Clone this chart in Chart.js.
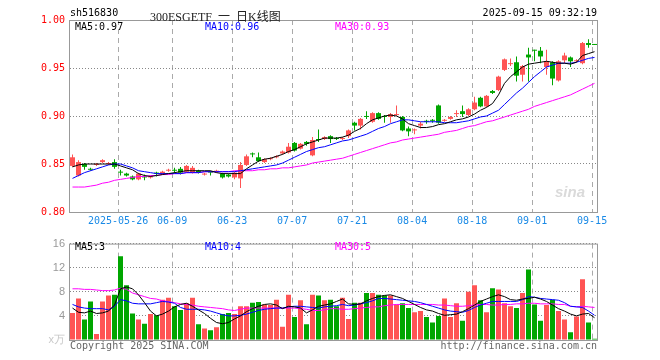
<!DOCTYPE html>
<html>
<head>
<meta charset="utf-8">
<script src="https://cdn.jsdelivr.net/npm/chart.js@4.4.1/dist/chart.umd.min.js"></script>
<style>
  body { margin: 0; background: #fff; }
  #wrap { position: relative; width: 660px; height: 360px; overflow: hidden; font-family: "DejaVu Sans Mono", monospace; font-size: 10px; }
  canvas { position: absolute; left: 0; }
  .t { position: absolute; line-height: 12px; white-space: nowrap; }
</style>
</head>
<body>
<div id="wrap">
  <canvas id="kline" width="660" height="232" style="top:0"></canvas>
  <canvas id="vol" width="660" height="128" style="top:232px"></canvas>

  <span class="t" style="left:70px;top:7px;color:#000">sh516830</span>
  <span class="t" style="left:150px;top:7px;color:#222;word-spacing:3px;font:12px 'Liberation Serif','Noto Sans CJK SC',serif">300ESGETF 一 日K线图</span>
  <span class="t" style="right:63px;top:7px;color:#000">2025-09-15 09:32:19</span>

  <span class="t" style="left:75px;top:21px;color:#000">MA5:0.97</span>
  <span class="t" style="left:205px;top:21px;color:#00f">MA10:0.96</span>
  <span class="t" style="left:335px;top:21px;color:#f0f">MA30:0.93</span>

  <span class="t" style="left:75px;top:241px;color:#000">MA5:3</span>
  <span class="t" style="left:205px;top:241px;color:#00f">MA10:4</span>
  <span class="t" style="left:335px;top:241px;color:#f0f">MA30:5</span>

  <span class="t" style="left:555px;top:183px;color:#dadada;font:italic bold 15px 'Liberation Sans',sans-serif">sina</span>

  <span class="t" style="left:70px;top:340px;color:#666">Copyright 2025 SINA.COM</span>
  <span class="t" style="right:63px;top:340px;color:#666">http://finance.sina.com.cn</span>
</div>

<script>
// trading days shown on the chart
const dates = [
  '2025-05-14','2025-05-15','2025-05-16','2025-05-19','2025-05-20','2025-05-21','2025-05-22','2025-05-23',
  '2025-05-26','2025-05-27','2025-05-28','2025-05-29','2025-05-30',
  '2025-06-03','2025-06-04','2025-06-05','2025-06-06','2025-06-09','2025-06-10','2025-06-11','2025-06-12','2025-06-13',
  '2025-06-16','2025-06-17','2025-06-18','2025-06-19','2025-06-20','2025-06-23','2025-06-24','2025-06-25','2025-06-26','2025-06-27','2025-06-30',
  '2025-07-01','2025-07-02','2025-07-03','2025-07-04','2025-07-07','2025-07-08','2025-07-09','2025-07-10','2025-07-11',
  '2025-07-14','2025-07-15','2025-07-16','2025-07-17','2025-07-18','2025-07-21','2025-07-22','2025-07-23','2025-07-24','2025-07-25',
  '2025-07-28','2025-07-29','2025-07-30','2025-07-31','2025-08-01',
  '2025-08-04','2025-08-05','2025-08-06','2025-08-07','2025-08-08','2025-08-11','2025-08-12','2025-08-13','2025-08-14','2025-08-15',
  '2025-08-18','2025-08-19','2025-08-20','2025-08-21','2025-08-22','2025-08-25','2025-08-26','2025-08-27','2025-08-28','2025-08-29',
  '2025-09-01','2025-09-02','2025-09-03','2025-09-04','2025-09-05','2025-09-08','2025-09-09','2025-09-10','2025-09-11','2025-09-12',
  '2025-09-15'
];
const tickDates = ['2025-05-26','2025-06-09','2025-06-23','2025-07-07','2025-07-21','2025-08-04','2025-08-18','2025-09-01','2025-09-15'];

const open = [.848,.838,.850,.845,.849,.852,.850,.852,.842,.840,.837,.834,.837,.836,.841,.840,.843,.844,.845,.842,
  .841,.843,.839,.842,.842,.840,.839,.836,.835,.849,.861,.857,.852,.855,.857,.861,.862,.872,.866,.873,
  .859,.876,.876,.879,.877,.876,.879,.893,.890,.900,.894,.903,.900,.899,.901,.899,.887,.885,.890,.895,
  .896,.911,.895,.897,.902,.905,.901,.907,.919,.910,.926,.927,.948,.954,.956,.943,.964,.969,.968,.951,
  .956,.937,.958,.961,.957,.955,.976,.975];
const high = [.860,.854,.851,.846,.851,.855,.852,.855,.844,.841,.838,.841,.839,.838,.842,.843,.845,.846,.847,.849,
  .848,.844,.841,.843,.844,.841,.840,.842,.852,.860,.862,.862,.856,.857,.859,.864,.872,.873,.872,.874,
  .878,.886,.879,.880,.878,.878,.886,.894,.898,.905,.904,.904,.901,.903,.911,.900,.889,.887,.894,.896,
  .897,.912,.897,.900,.906,.911,.908,.920,.920,.922,.927,.942,.960,.960,.962,.953,.971,.969,.972,.969,
  .957,.958,.966,.962,.959,.977,.980,.975];
const low = [.847,.837,.844,.843,.848,.851,.849,.845,.838,.837,.833,.833,.833,.835,.837,.839,.842,.840,.839,.841,
  .840,.840,.838,.838,.841,.835,.836,.834,.825,.848,.857,.852,.851,.854,.856,.860,.861,.863,.865,.869,
  .858,.873,.875,.872,.875,.875,.877,.885,.886,.897,.893,.896,.893,.893,.900,.884,.879,.881,.887,.892,
  .893,.892,.894,.896,.899,.899,.900,.906,.909,.909,.923,.926,.947,.952,.936,.936,.936,.957,.955,.943,
  .932,.936,.955,.951,.956,.954,.971,.974];
const close = [.857,.852,.847,.844,.850,.854,.851,.847,.841,.838,.834,.840,.836,.837,.840,.842,.844,.843,.841,.848,
  .846,.841,.840,.841,.843,.836,.837,.841,.849,.858,.860,.853,.855,.856,.858,.863,.868,.864,.871,.871,
  .875,.875,.878,.876,.876,.877,.885,.890,.897,.899,.903,.897,.899,.902,.902,.885,.884,.886,.892,.894,
  .895,.893,.896,.899,.903,.902,.907,.914,.910,.921,.924,.941,.959,.955,.942,.952,.961,.968,.962,.957,
  .939,.957,.963,.957,.958,.976,.974,.974];

const ma5 = [.847,.849,.850,.850,.850,.850,.850,.850,.848,.846,.844,.840,.838,.837,.838,.839,.840,.841,.842,.843,
  .843,.843,.843,.843,.841,.840,.840,.840,.840,.845,.849,.853,.855,.856,.858,.860,.863,.865,.868,.871,
  .873,.875,.877,.877,.877,.878,.880,.884,.887,.892,.896,.898,.900,.901,.900,.897,.892,.890,.888,.888,
  .889,.891,.892,.894,.896,.897,.899,.902,.906,.909,.913,.922,.934,.941,.946,.951,.954,.955,.956,.957,
  .956,.955,.955,.954,.956,.963,.965,.967];
const ma10 = [.835,.838,.841,.843,.845,.847,.849,.850,.850,.848,.846,.843,.842,.841,.840,.840,.840,.840,.840,.841,
  .841,.841,.842,.842,.842,.842,.842,.842,.843,.844,.845,.846,.847,.848,.849,.851,.854,.857,.860,.863,
  .865,.867,.868,.870,.872,.874,.875,.877,.879,.881,.884,.887,.889,.892,.894,.896,.896,.895,.894,.894,
  .894,.894,.893,.893,.893,.894,.895,.897,.899,.900,.903,.906,.912,.918,.924,.929,.935,.941,.946,.951,
  .953,.955,.955,.955,.956,.958,.960,.961];
const ma30 = [.826,.826,.826,.827,.828,.830,.831,.833,.834,.835,.836,.837,.837,.838,.838,.839,.839,.840,.840,.841,
  .841,.841,.842,.842,.842,.842,.842,.843,.843,.843,.843,.844,.844,.845,.845,.846,.846,.847,.848,.849,
  .851,.852,.853,.854,.855,.856,.858,.860,.862,.864,.866,.868,.870,.872,.873,.875,.876,.877,.878,.879,
  .880,.881,.883,.884,.885,.887,.889,.890,.892,.894,.895,.897,.899,.901,.903,.905,.907,.910,.912,.914,
  .916,.918,.920,.922,.925,.928,.931,.934];

// volume in 万
const volume = [4.5,6.9,3.4,6.4,1.0,6.4,7.4,7.5,13.9,9.1,4.4,3.4,2.7,4.3,4.1,6.7,7.0,5.6,5.0,6.1,
  7.0,2.6,1.9,1.6,2.1,4.3,4.5,4.3,5.6,5.6,6.2,6.3,5.9,5.8,6.7,2.2,7.5,3.8,6.6,2.6,
  7.5,7.4,6.6,6.7,5.6,7.0,3.5,6.2,6.2,7.8,7.8,7.5,7.4,7.4,5.9,6.1,5.3,4.6,4.8,3.8,
  2.9,4.0,6.9,3.8,6.1,3.2,8.0,9.1,6.6,4.6,8.6,8.4,6.1,5.6,5.3,7.8,11.7,5.9,3.2,5.8,
  6.7,4.8,3.4,1.3,3.9,10.1,2.9,0.2];
const volMa5 = [5.3,4.6,4.5,4.8,4.4,4.5,4.8,5.8,8.5,8.8,8.5,7.5,6.2,4.8,4.0,4.3,4.8,5.5,5.9,6.1,
  5.6,5.0,4.4,3.6,2.9,2.7,2.9,3.5,4.0,4.7,5.2,5.6,5.9,6.0,5.8,5.2,5.6,5.5,5.3,4.5,
  5.0,5.6,5.8,6.0,6.4,6.8,6.0,5.9,6.0,6.5,6.9,7.2,7.4,7.5,7.2,6.9,6.4,5.9,5.4,5.0,
  4.8,4.4,4.1,4.2,4.3,4.7,5.2,5.8,6.4,6.8,7.2,7.5,7.2,6.7,6.6,6.8,6.9,7.1,6.8,6.4,
  5.8,5.2,4.8,4.3,4.0,4.3,4.4,3.7];
const volMa10 = [5.9,5.5,5.3,5.2,5.2,5.2,5.0,5.6,6.7,6.5,6.1,6.0,6.0,6.0,6.2,6.4,6.3,6.1,5.4,5.1,
  5.1,5.1,5.0,4.8,4.5,4.2,4.0,4.0,4.1,4.3,4.6,4.9,5.1,5.2,5.3,5.3,5.5,5.6,5.6,5.5,
  5.4,5.3,5.5,5.6,5.7,5.9,5.7,5.8,6.0,6.2,6.5,6.9,6.9,6.8,6.7,6.6,6.5,6.4,6.2,5.9,
  5.6,5.3,5.0,4.8,4.7,4.6,4.9,5.4,5.8,6.1,6.4,6.4,6.4,6.4,6.4,6.7,7.2,7.1,6.9,6.8,
  6.7,6.6,6.2,5.6,5.5,5.4,4.8,4.1];
const volMa30 = [8.5,8.5,8.4,8.4,8.3,8.2,8.2,8.3,8.6,8.4,7.8,7.5,7.2,6.9,6.8,6.5,6.4,6.2,6.0,5.9,
  5.8,5.6,5.5,5.4,5.3,5.2,5.0,4.9,5.1,5.3,5.3,5.3,5.3,5.3,5.3,5.3,5.3,5.3,5.2,5.1,
  4.9,4.9,5.0,5.2,5.2,5.1,5.1,5.2,5.3,5.4,5.5,5.5,5.7,5.8,5.9,5.9,5.9,5.9,5.9,5.9,
  5.9,5.8,5.8,5.7,5.6,5.6,5.7,5.8,5.9,5.9,5.8,5.8,5.9,5.9,6.0,6.0,6.1,6.1,6.0,6.0,
  6.0,5.9,5.9,5.6,5.5,5.6,5.5,5.4];

const UP = '#ff5454';
const DOWN = '#00a600';
const mono = { family: 'DejaVu Sans Mono', size: 10 };

const idx = dates.map((d, i) => i);
const tickIdx = tickDates.map(d => dates.indexOf(d));
const colors = idx.map(i => close[i] >= open[i] ? UP : DOWN);

// grey frame round the plot area (also hides the grid lines on the edges)
const frame = {
  id: 'frame',
  afterDatasetsDraw(chart) {
    const { ctx, chartArea: a } = chart;
    ctx.save();
    ctx.strokeStyle = '#999';
    ctx.lineWidth = 1;
    ctx.setLineDash([]);
    ctx.strokeRect(a.left - 0.5, a.top + 0.5, a.right - a.left, a.bottom - a.top);
    ctx.restore();
  }
};

// shared date axis, one unit per trading day
function dateAxis(showLabels) {
  return {
    type: 'linear',
    bounds: 'data',
    offset: false,
    min: -2.5 / 6,
    max: dates.length - 2.5 / 6,
    afterBuildTicks: s => { s.ticks = tickIdx.map(k => ({ value: k - 0.4 })); },
    afterFit: s => { s.height = showLabels ? 20 : 0; },
    ticks: {
      display: showLabels,
      autoSkip: false,
      maxRotation: 0,
      padding: 3,
      color: '#1a8ae6',
      font: mono,
      callback: v => {
        const k = Math.round(v + 0.4);
        return k === tickIdx[0] ? dates[k] : dates[k].slice(5);
      }
    },
    grid: { offset: false, drawTicks: false, color: '#aaa' },
    border: { display: false, dash: [5, 4] }
  };
}

// dotted horizontal level lines
function levelAxis(extra) {
  return Object.assign({
    afterFit: s => { s.width = 70; },
    grid: { drawTicks: false, color: '#888', lineWidth: 1 },
    border: { display: false, dash: [1, 2] }
  }, extra);
}

function line(values, color) {
  return {
    type: 'line',
    data: idx.map(i => ({ x: i, y: values[i] })),
    borderColor: color,
    borderWidth: 1,
    pointRadius: 0,
    tension: 0,
    order: 1
  };
}

new Chart(document.getElementById('kline'), {
  type: 'bar',
  data: {
    datasets: [
      line(ma5, '#000'),
      line(ma10, '#00f'),
      line(ma30, '#f0f'),
      {
        data: idx.map(i => ({ x: i, y: [open[i], close[i]] })),
        backgroundColor: colors,
        barThickness: 5,
        minBarLength: 1,
        grouped: false,
        inflateAmount: 0,
        order: 2
      },
      {
        data: idx.map(i => ({ x: i, y: [low[i], high[i]] })),
        backgroundColor: colors,
        barThickness: 1,
        grouped: false,
        inflateAmount: 0,
        order: 3
      }
    ]
  },
  options: {
    responsive: false,
    animation: false,
    devicePixelRatio: 1,
    layout: { padding: { top: 20, right: 62, bottom: 0, left: 0 } },
    plugins: { legend: { display: false }, tooltip: { enabled: false } },
    scales: {
      x: dateAxis(true),
      y: levelAxis({
        min: 0.8,
        max: 1.0,
        beginAtZero: false,
        ticks: { stepSize: 0.05, color: '#f00', font: mono, padding: 5, callback: v => v.toFixed(2) }
      })
    }
  },
  plugins: [frame]
});

new Chart(document.getElementById('vol'), {
  type: 'bar',
  data: {
    datasets: [
      line(volMa5, '#000'),
      line(volMa10, '#00f'),
      line(volMa30, '#f0f'),
      {
        data: idx.map(i => ({ x: i, y: volume[i] })),
        backgroundColor: colors,
        barThickness: 5,
        grouped: false,
        inflateAmount: 0,
        order: 2
      }
    ]
  },
  options: {
    responsive: false,
    animation: false,
    devicePixelRatio: 1,
    layout: { padding: { top: 8, right: 62, bottom: 20, left: 0 } },
    plugins: { legend: { display: false }, tooltip: { enabled: false } },
    scales: {
      x: dateAxis(false),
      y: levelAxis({
        min: 0,
        max: 16,
        ticks: {
          stepSize: 4,
          padding: 5,
          font: { family: 'Liberation Sans', size: 11 },
          color: c => c.tick && c.tick.value === 0 ? '#c8c8c8' : '#999',
          callback: v => v === 0 ? 'x万' : v
        }
      })
    }
  },
  plugins: [frame]
});
</script>
</body>
</html>
